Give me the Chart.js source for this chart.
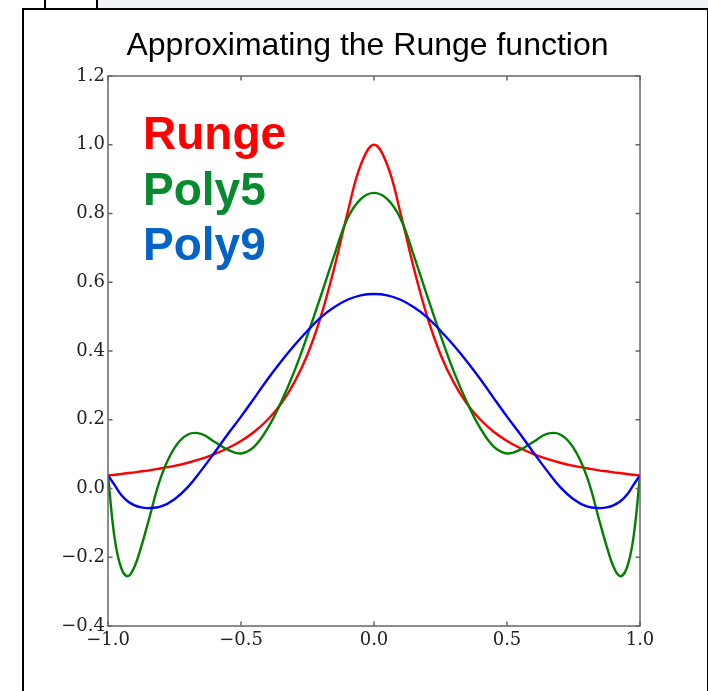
<!DOCTYPE html>
<html>
<head>
<meta charset="utf-8">
<script src="https://cdn.jsdelivr.net/npm/chart.js@4.4.1/dist/chart.umd.min.js"></script>
<style>
  html, body { margin: 0; padding: 0; background: #fff; }
  body { width: 708px; height: 691px; position: relative; overflow: hidden; }
  #strip { position: absolute; left: 96px; top: 0; width: 612px; height: 8px; background: #f2f3f6; }
  #tab { position: absolute; left: 44px; top: -2px; width: 50px; height: 10px; border-left: 2px solid #000; border-right: 2px solid #000; }
  #frame { position: absolute; left: 22px; top: 8px; width: 683px; height: 700px; border: 2px solid #000; }
  #chart { position: absolute; left: 0; top: 0; }
</style>
</head>
<body>
<div id="strip"></div>
<div id="tab"></div>
<div id="frame"></div>
<canvas id="chart" width="708" height="691"></canvas>
<script>
// values
const xs = [-1, -0.975, -0.95, -0.925, -0.9, -0.875, -0.85, -0.8, -0.75, -0.7, -0.65, -0.6, -0.55, -0.5, -0.45, -0.4, -0.35, -0.3, -0.25, -0.2, -0.15, -0.1, -0.05,
  0, 0.05, 0.1, 0.15, 0.2, 0.25, 0.3, 0.35, 0.4, 0.45, 0.5, 0.55, 0.6, 0.65, 0.7, 0.75, 0.8, 0.85, 0.875, 0.9, 0.925, 0.95, 0.975, 1];
const runge = [0.038, 0.040, 0.042, 0.045, 0.047, 0.050, 0.052, 0.059, 0.066, 0.075, 0.086, 0.100, 0.117, 0.138, 0.165, 0.200, 0.246, 0.308, 0.390, 0.500, 0.640, 0.800, 0.941,
  1.0, 0.941, 0.800, 0.640, 0.500, 0.390, 0.308, 0.246, 0.200, 0.165, 0.138, 0.117, 0.100, 0.086, 0.075, 0.066, 0.059, 0.052, 0.050, 0.047, 0.045, 0.042, 0.040, 0.038];
const poly5 = [0.038, -0.145, -0.232, -0.255, -0.227, -0.169, -0.101, 0.035, 0.118, 0.157, 0.159, 0.136, 0.113, 0.102, 0.122, 0.175, 0.250, 0.340, 0.446, 0.560, 0.677, 0.785, 0.842,
  0.86, 0.842, 0.785, 0.677, 0.560, 0.446, 0.340, 0.250, 0.175, 0.122, 0.102, 0.113, 0.136, 0.159, 0.157, 0.118, 0.035, -0.101, -0.169, -0.227, -0.255, -0.232, -0.145, 0.038];
const poly9 = [0.038, 0.010, -0.019, -0.038, -0.049, -0.055, -0.057, -0.052, -0.031, 0.004, 0.052, 0.104, 0.158, 0.209, 0.263, 0.318, 0.369, 0.416, 0.459, 0.498, 0.527, 0.549, 0.562,
  0.566, 0.562, 0.549, 0.527, 0.498, 0.459, 0.416, 0.369, 0.318, 0.263, 0.209, 0.158, 0.104, 0.052, 0.004, -0.031, -0.052, -0.057, -0.055, -0.049, -0.038, -0.019, 0.010, 0.038];
const seriesNames = ['Runge', 'Poly5', 'Poly9'];
const title = 'Approximating the Runge function';

const lineColors = ['#ff0000', '#008000', '#0000ff'];
const labelColors = ['#ff0000', '#078a30', '#0563c8'];
const axisColor = '#666';

const fmt = v => Number(v).toFixed(1).replace('-', '\u2212');
const pts = ys => xs.map((x, i) => ({ x, y: ys[i] }));

// title, in-plot labels, box and inward ticks
const decor = {
  id: 'decor',
  afterDraw(chart) {
    const { ctx, chartArea: a, scales: { x, y } } = chart;
    ctx.save();
    ctx.fillStyle = '#000';
    ctx.font = '32px "Liberation Sans", Arial, sans-serif';
    ctx.textAlign = 'center';
    ctx.textBaseline = 'alphabetic';
    ctx.fillText(title, 367.5, 55);

    ctx.font = 'bold 46px "Liberation Sans", Arial, sans-serif';
    ctx.textAlign = 'left';
    chart.data.datasets.forEach((ds, i) => {
      ctx.fillStyle = labelColors[i];
      ctx.fillText(ds.label, 143, 149 + i * 55.5);
    });

    ctx.strokeStyle = axisColor;
    ctx.lineWidth = 1.5;
    ctx.strokeRect(a.left, a.top, a.right - a.left, a.bottom - a.top);
    const len = 4.5;
    ctx.beginPath();
    x.ticks.forEach(t => {
      const px = x.getPixelForValue(t.value);
      ctx.moveTo(px, a.bottom); ctx.lineTo(px, a.bottom - len);
      ctx.moveTo(px, a.top); ctx.lineTo(px, a.top + len);
    });
    y.ticks.forEach(t => {
      const py = y.getPixelForValue(t.value);
      ctx.moveTo(a.left, py); ctx.lineTo(a.left + len, py);
      ctx.moveTo(a.right, py); ctx.lineTo(a.right - len, py);
    });
    ctx.stroke();
    ctx.restore();
  }
};

const tickFont = { family: '"DejaVu Serif", serif', size: 18 };

new Chart(document.getElementById('chart'), {
  type: 'line',
  data: {
    datasets: [
      { label: seriesNames[0], data: pts(runge), borderColor: lineColors[0], order: 3 },
      { label: seriesNames[1], data: pts(poly5), borderColor: lineColors[1], order: 2 },
      { label: seriesNames[2], data: pts(poly9), borderColor: lineColors[2], order: 1 }
    ]
  },
  options: {
    responsive: false,
    animation: false,
    layout: { padding: { left: 0, top: 76, right: 68, bottom: 0 } },
    elements: {
      point: { radius: 0 },
      line: { borderWidth: 2.4, tension: 0.4, fill: false }
    },
    plugins: { legend: { display: false }, tooltip: { enabled: false } },
    scales: {
      x: {
        type: 'linear', min: -1, max: 1,
        grid: { display: false, drawTicks: false },
        border: { display: false },
        ticks: { stepSize: 0.5, callback: fmt, font: tickFont, color: '#222', padding: 4, maxRotation: 0 },
        afterFit(s) { s.height = 65; }
      },
      y: {
        type: 'linear', min: -0.4, max: 1.2,
        grid: { display: false, drawTicks: false },
        border: { display: false },
        ticks: { stepSize: 0.2, callback: fmt, font: tickFont, color: '#222', padding: 3 },
        afterFit(s) { s.width = 108; }
      }
    }
  },
  plugins: [decor]
});
</script>
</body>
</html>
